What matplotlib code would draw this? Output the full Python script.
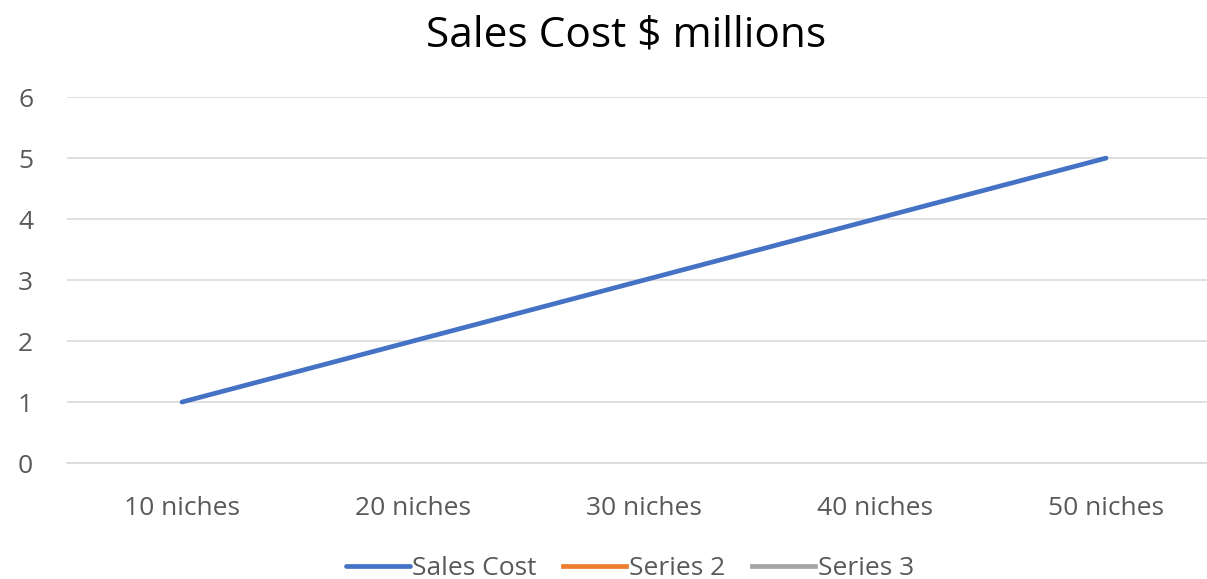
import matplotlib.pyplot as plt

categories = ["10 niches", "20 niches", "30 niches", "40 niches", "50 niches"]
sales_cost = [1, 2, 3, 4, 5]
series_2 = []
series_3 = []

plt.rcParams["font.family"] = ["Open Sans", "DejaVu Sans"]

fig = plt.figure(figsize=(12.07, 5.79), dpi=100)
ax = fig.add_axes([0.0551, 0.2003, 0.957, 0.632])

x = list(range(len(categories)))
ax.plot(x, sales_cost, color="#4472C4", lw=3.4, solid_capstyle="round", label="Sales Cost")
ax.plot(series_2, series_2, color="#ED7D31", lw=3.4, label="Series 2")
ax.plot(series_3, series_3, color="#A5A5A5", lw=3.4, label="Series 3")

ax.set_xlim(-0.5, len(categories) - 0.5)
ax.set_ylim(0, 6)
ax.set_yticks(range(0, 7))
ax.set_xticks(x)
ax.set_xticklabels(categories)
ax.grid(axis="y", color="#D9D9D9", lw=1.2)
ax.set_axisbelow(True)
for s in ax.spines.values():
    s.set_visible(False)
ax.spines["bottom"].set_visible(True)
ax.spines["bottom"].set_color("#D9D9D9")
ax.spines["bottom"].set_linewidth(1.2)
ax.tick_params(length=0, labelsize=19, labelcolor="#595959")
ax.tick_params(axis="x", pad=24)
ax.tick_params(axis="y", pad=24)

fig.suptitle("Sales Cost $ millions", fontsize=30.5, color="black", x=0.519, y=0.975)

fig.legend(loc="lower center", bbox_to_anchor=(0.522, -0.045), ncol=3, frameon=False,
           fontsize=19, labelcolor="#595959", handlelength=2.4, handletextpad=0.1,
           columnspacing=1.0)

fig.savefig("out.png", dpi=100)
